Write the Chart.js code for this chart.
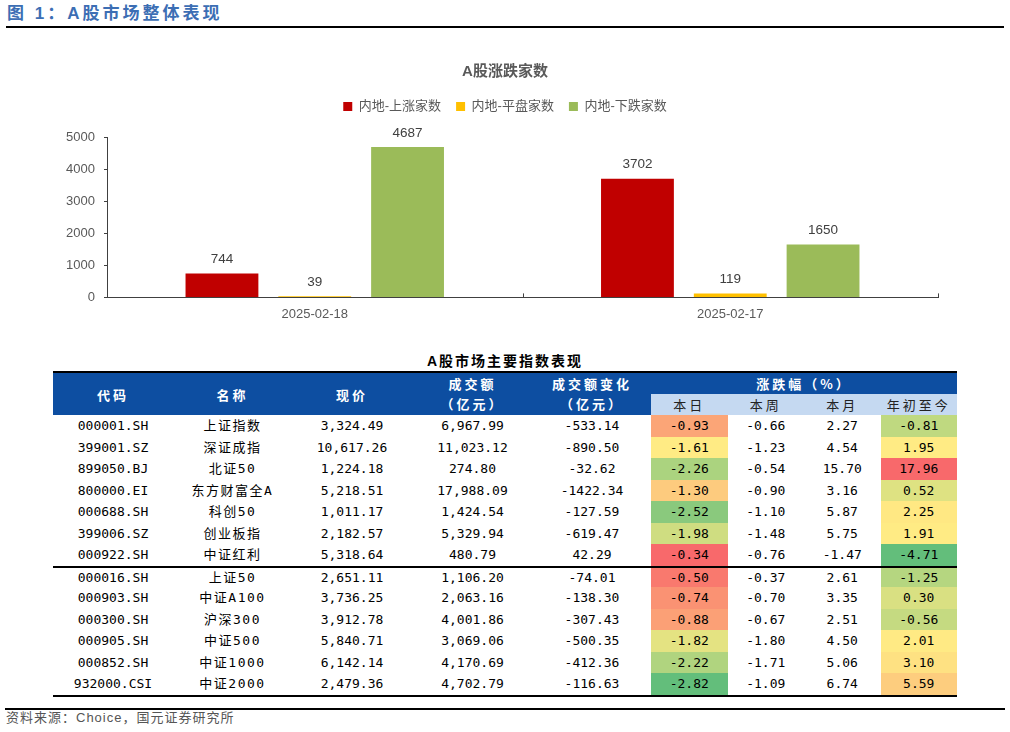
<!DOCTYPE html>
<html>
<head>
<meta charset="utf-8">
<title>A股市场整体表现</title>
<script src="https://cdn.jsdelivr.net/npm/chart.js"></script>
<style>
  body { margin:0; background:#fff; width:1010px; height:732px; position:relative; overflow:hidden;
         font-family:'Liberation Sans','Noto Sans CJK SC',sans-serif; }
  #head { position:absolute; left:7px; top:4px; line-height:20px; font-size:17px; font-weight:bold;
          color:#3c6eb4; letter-spacing:3px; font-family:'Liberation Sans','Noto Sans CJK SC',sans-serif; }
  #headLine { position:absolute; left:6px; top:26px; width:998px; height:2px; background:#000; }
  #chartBox { position:absolute; left:0; top:40px; width:1010px; height:292px; }
  #tblTitle { position:absolute; left:53px; width:904px; top:352px; line-height:18px; text-align:center;
              font-size:14px; font-weight:bold; letter-spacing:2px; color:#000; }
  #tbl { position:absolute; left:53px; top:371px; width:904px; border-collapse:separate; border-spacing:0;
         table-layout:fixed; border-top:2px solid #000; border-bottom:2px solid #000;
         font-family:'DejaVu Sans Mono','Noto Sans CJK SC',monospace; font-size:13px; color:#000; }
  #tbl td { padding:0; text-align:center; vertical-align:middle; line-height:1; white-space:nowrap; }
  #tbl tr.hd td { height:21px; }
  #tbl td.blue { background:#0d4ea1; color:#fff; font-family:'Noto Sans CJK SC',sans-serif; font-weight:bold;
                 letter-spacing:3px; }
  #tbl td.sub { background:#c5d9f1; color:#222; font-family:'Noto Sans CJK SC',sans-serif; letter-spacing:3px; }
  #tbl td.two { line-height:20px; }
  #tbl tr.row { height:21.5px; }
  #tbl tr.brk td { border-top:2px solid #000; }
  #tbl td.nm { letter-spacing:1.5px; }
  #footLine { position:absolute; left:5px; top:708px; width:1000px; height:2px; background:#000; }
  #src { position:absolute; left:6px; top:709px; line-height:18px; font-size:13px; color:#555; letter-spacing:1px; }
</style>
</head>
<body>
<div id="head">图 1：A股市场整体表现</div>
<div id="headLine"></div>
<div id="chartBox"><canvas id="myChart" width="1010" height="292"></canvas></div>
<div id="tblTitle">A股市场主要指数表现</div>
<table id="tbl"></table>
<div id="footLine"></div>
<div id="src">资料来源：Choice，国元证券研究所</div>
<script>
    // bar chart data
    const dates = ['2025-02-18', '2025-02-17'];
    const seriesNames = ['内地-上涨家数', '内地-平盘家数', '内地-下跌家数'];
    const upCounts = [744, 3702];
    const flatCounts = [39, 119];
    const downCounts = [4687, 1650];
    const seriesColors = ['#c00000', '#ffc000', '#9bbb59'];

    // table data
    const codes = ['000001.SH', '399001.SZ', '899050.BJ', '800000.EI', '000688.SH', '399006.SZ', '000922.SH',
                   '000016.SH', '000903.SH', '000300.SH', '000905.SH', '000852.SH', '932000.CSI'];
    const names = ['上证指数', '深证成指', '北证50', '东方财富全A', '科创50', '创业板指', '中证红利',
                   '上证50', '中证A100', '沪深300', '中证500', '中证1000', '中证2000'];
    const prices = [3324.49, 10617.26, 1224.18, 5218.51, 1011.17, 2182.57, 5318.64,
                    2651.11, 3736.25, 3912.78, 5840.71, 6142.14, 2479.36];
    const turnover = [6967.99, 11023.12, 274.80, 17988.09, 1424.54, 5329.94, 480.79,
                      1106.20, 2063.16, 4001.86, 3069.06, 4170.69, 4702.79];
    const turnoverChg = [-533.14, -890.50, -32.62, -1422.34, -127.59, -619.47, 42.29,
                         -74.01, -138.30, -307.43, -500.35, -412.36, -116.63];
    const chgDay = [-0.93, -1.61, -2.26, -1.30, -2.52, -1.98, -0.34, -0.50, -0.74, -0.88, -1.82, -2.22, -2.82];
    const chgWeek = [-0.66, -1.23, -0.54, -0.90, -1.10, -1.48, -0.76, -0.37, -0.70, -0.67, -1.80, -1.71, -1.09];
    const chgMonth = [2.27, 4.54, 15.70, 3.16, 5.87, 5.75, -1.47, 2.61, 3.35, 2.51, 4.50, 5.06, 6.74];
    const chgYtd = [-0.81, 1.95, 17.96, 0.52, 2.25, 1.91, -4.71, -1.25, 0.30, -0.56, 2.01, 3.10, 5.59];
    const groupBreak = 7;

    Chart.defaults.font.family = "'Liberation Sans', 'Noto Sans CJK SC', sans-serif";

    // value above each bar
    const barLabels = {
        id: 'barLabels',
        afterDatasetsDraw(chart) {
            const ctx = chart.ctx;
            ctx.save();
            ctx.font = "13.5px 'Liberation Sans', sans-serif";
            ctx.fillStyle = '#404040';
            ctx.textAlign = 'center';
            ctx.textBaseline = 'middle';
            chart.data.datasets.forEach((ds, i) => {
                chart.getDatasetMeta(i).data.forEach((bar, j) => {
                    ctx.fillText(ds.data[j], bar.x, bar.y - 14);
                });
            });
            ctx.restore();
        }
    };

    // small upward ticks between categories (excel style)
    const catTicks = {
        id: 'catTicks',
        afterDraw(chart) {
            const x = chart.scales.x, ctx = chart.ctx;
            const n = chart.data.labels.length;
            const w = (x.right - x.left) / n;
            ctx.save();
            ctx.strokeStyle = '#404040';
            ctx.lineWidth = 1;
            for (let i = 0; i <= n; i++) {
                const px = Math.round(x.left + i * w) + 0.5;
                ctx.beginPath();
                ctx.moveTo(px, x.top);
                ctx.lineTo(px, x.top - 4);
                ctx.stroke();
            }
            ctx.restore();
        }
    };

    const ctx = document.getElementById('myChart').getContext('2d');
    window.myChart = new Chart(ctx, {
        type: 'bar',
        data: {
            labels: dates,
            datasets: [upCounts, flatCounts, downCounts].map((d, i) => ({
                label: seriesNames[i],
                data: d,
                backgroundColor: seriesColors[i],
                borderWidth: 0,
                categoryPercentage: 0.67,
                barPercentage: 0.785
            }))
        },
        options: {
            responsive: false,
            animation: false,
            layout: { padding: { top: 0, right: 0, bottom: 9, left: 0 } },
            plugins: {
                title: {
                    display: true, text: 'A股涨跌家数', color: '#595959',
                    font: { size: 15, weight: 'bold' }, padding: { top: 23, bottom: 4 }
                },
                subtitle: {
                    // spacer between legend and plot
                    display: true, text: '', weight: 500,
                    font: { size: 1, lineHeight: 1 }, padding: { top: 13, bottom: 0 }
                },
                legend: {
                    labels: { boxWidth: 9, boxHeight: 9, padding: 15, color: '#595959', font: { size: 13 } }
                },
                tooltip: { enabled: false }
            },
            scales: {
                x: {
                    grid: { display: false },
                    border: { display: true, color: '#404040' },
                    ticks: { color: '#595959', font: { size: 13 }, padding: 1 }
                },
                y: {
                    min: 0, max: 5000,
                    afterFit(s) { s.width = 107; },
                    grid: { drawOnChartArea: false, tickLength: 3, color: '#404040' },
                    border: { color: '#404040' },
                    ticks: { stepSize: 1000, color: '#595959', font: { size: 13 }, padding: 9,
                             callback: v => String(v) }
                },
                // empty right-hand margin so title and legend stay centred on the page
                yRight: {
                    position: 'right',
                    afterFit(s) { s.width = 72; },
                    grid: { display: false },
                    border: { display: false },
                    ticks: { display: false }
                }
            }
        },
        plugins: [barLabels, catTicks]
    });

    // table
    function fmtComma(v) {
        return v.toLocaleString('en-US', { minimumFractionDigits: 2, maximumFractionDigits: 2 });
    }
    // excel 3-colour scale: green (min) - yellow (median) - red (max)
    function scaleColors(vals) {
        const s = vals.slice().sort((a, b) => a - b);
        const lo = s[0], hi = s[s.length - 1];
        const k = (s.length - 1) / 2;
        const mid = s[Math.floor(k)] + (s[Math.ceil(k)] - s[Math.floor(k)]) * (k - Math.floor(k));
        const g = [99, 190, 123], y = [255, 235, 132], r = [248, 105, 107];
        const mix = (a, b, t) => a.map((c, i) => Math.round(c + (b[i] - c) * t));
        return vals.map(v => {
            const c = v <= mid ? mix(g, y, (v - lo) / (mid - lo)) : mix(y, r, (v - mid) / (hi - mid));
            return 'rgb(' + c.join(',') + ')';
        });
    }
    const dayColors = scaleColors(chgDay);
    const ytdColors = scaleColors(chgYtd);

    let html = '<colgroup>';
    [120, 119, 120, 121, 118, 76.5, 76.5, 76.5, 76.5].forEach(w => { html += '<col style="width:' + w + 'px">'; });
    html += '</colgroup>';
    html += '<tr class="hd">' +
        '<td class="blue" rowspan="2">代码</td>' +
        '<td class="blue" rowspan="2">名称</td>' +
        '<td class="blue" rowspan="2">现价</td>' +
        '<td class="blue two" rowspan="2">成交额<br>（亿元）</td>' +
        '<td class="blue two" rowspan="2">成交额变化<br>（亿元）</td>' +
        '<td class="blue" colspan="4">涨跌幅（%）</td></tr>';
    html += '<tr class="hd"><td class="sub">本日</td><td class="sub">本周</td><td class="sub">本月</td><td class="sub">年初至今</td></tr>';
    codes.forEach((c, i) => {
        html += '<tr class="row' + (i === groupBreak ? ' brk' : '') + '">' +
            '<td>' + c + '</td>' +
            '<td class="nm">' + names[i] + '</td>' +
            '<td>' + fmtComma(prices[i]) + '</td>' +
            '<td>' + fmtComma(turnover[i]) + '</td>' +
            '<td>' + turnoverChg[i].toFixed(2) + '</td>' +
            '<td style="background:' + dayColors[i] + '">' + chgDay[i].toFixed(2) + '</td>' +
            '<td>' + chgWeek[i].toFixed(2) + '</td>' +
            '<td>' + chgMonth[i].toFixed(2) + '</td>' +
            '<td style="background:' + ytdColors[i] + '">' + chgYtd[i].toFixed(2) + '</td></tr>';
    });
    document.getElementById('tbl').innerHTML = html;
</script>
</body>
</html>
